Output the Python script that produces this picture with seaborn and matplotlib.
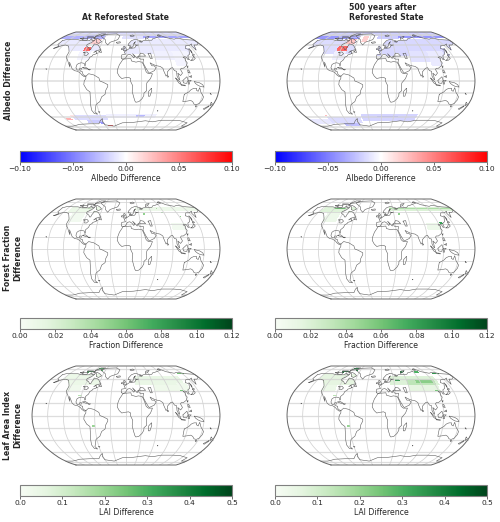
#!/usr/bin/env python
# -*- coding: utf-8 -*-

import numpy as np
import pandas as pd
import matplotlib
matplotlib.use("Agg")
import matplotlib.pyplot as plt
from matplotlib.path import Path
from matplotlib.colors import Normalize
from matplotlib.cm import ScalarMappable
from matplotlib.ticker import FuncFormatter
import seaborn as sns

# Robinson table
ROB_LAT = np.arange(0, 95, 5)
ROB_X = [1, .9986, .9954, .99, .9822, .973, .96, .9427, .9216, .8962, .8679, .835, .7986, .7597, .7186, .6732, .6213, .5722, .5322]
ROB_Y = [0, .062, .124, .186, .248, .31, .372, .434, .4958, .5571, .6176, .6769, .7346, .7903, .8435, .8936, .9394, .9761, 1]

# coastlines, lon/lat
north_america = [(-166,68),(-157,71),(-141,70),(-128,70),(-115,68),(-108,68),(-95,68),(-94,72),(-88,68),(-82,69),(-87,64),(-94,61),(-93,58),(-85,55),(-82,52),(-79,52),(-79,55),(-77,60),(-78,62),(-70,61),(-65,59),(-60,55),(-56,52),(-66,50),(-70,47),(-65,49),(-64,46),(-61,46),(-66,44),(-70,43),(-71,41),(-75,39),(-76,35),(-81,31),(-80,26),(-81,25),(-83,29),(-89,30),(-94,29),(-97,27),(-98,22),(-95,18),(-91,18),(-90,21),(-87,21),(-88,16),(-84,15),(-83,11),(-80,9),(-77,8),(-80,7),(-85,10),(-88,13),(-94,16),(-100,17),(-105,20),(-109,26),(-113,31),(-110,23),(-115,30),(-118,34),(-122,37),(-124,41),(-124,48),(-130,54),(-135,58),(-145,60),(-152,59),(-160,55),(-165,54),(-158,58),(-165,61),(-165,65),(-166,68)]
south_america = [(-77,8),(-72,12),(-62,10),(-52,5),(-50,0),(-44,-2),(-35,-6),(-35,-9),(-39,-15),(-41,-22),(-48,-26),(-53,-34),(-57,-36),(-62,-39),(-65,-45),(-69,-51),(-65,-55),(-72,-54),(-75,-48),(-73,-38),(-71,-30),(-70,-18),(-76,-14),(-81,-6),(-80,0),(-77,4),(-77,8)]
africa = [(-6,36),(10,37),(11,33),(20,31),(25,32),(32,31),(34,28),(37,21),(39,15),(43,12),(51,12),(47,4),(40,-3),(39,-10),(40,-16),(35,-20),(35,-24),(32,-29),(26,-34),(20,-35),(18,-33),(15,-26),(12,-17),(13,-8),(9,-1),(9,4),(5,6),(-4,5),(-8,4),(-13,8),(-17,14),(-16,20),(-13,27),(-9,32),(-6,36)]
eurasia = [(-9,37),(-9,43),(-1,44),(-4,48),(2,51),(8,54),(8,57),(11,56),(10,54),(20,55),(24,59),(30,60),(22,60),(21,64),(24,66),(18,62),(17,58),(13,55),(10,59),(5,59),(6,62),(14,68),(25,71),(41,67),(33,66),(40,65),(44,68),(60,69),(68,69),(73,72),(80,73),(105,78),(113,74),(130,71),(140,73),(160,70),(180,69),(180,65),(178,63),(170,60),(163,60),(156,51),(155,58),(160,62),(150,59),(142,59),(135,54),(141,52),(135,44),(130,42),(128,38),(129,35),(126,35),(125,39),(122,40),(118,39),(122,37),(120,34),(122,30),(119,25),(112,21),(108,21),(106,19),(109,13),(105,9),(100,13),(103,2),(101,3),(98,8),(98,16),(94,17),(91,22),(87,21),(80,15),(80,11),(77,8),(73,17),(72,21),(67,24),(61,25),(57,26),(52,28),(48,30),(51,25),(55,25),(59,22),(55,17),(45,13),(43,15),(39,21),(35,28),(34,31),(36,36),(30,36),(27,37),(26,40),(30,41),(41,41),(37,45),(31,46),(28,42),(24,40),(23,37),(20,40),(14,45),(18,40),(16,38),(12,42),(8,44),(3,43),(0,39),(-2,37),(-6,36),(-9,37)]
australia = [(114,-22),(122,-18),(126,-14),(131,-12),(136,-12),(136,-15),(140,-17),(142,-11),(146,-19),(153,-26),(153,-31),(150,-37),(145,-39),(140,-38),(135,-34),(130,-32),(124,-33),(115,-34),(114,-22)]
greenland = [(-73,78),(-60,82),(-30,83),(-18,78),(-22,70),(-40,65),(-44,60),(-52,65),(-55,70),(-70,76),(-73,78)]
baffin = [(-88,72),(-80,73),(-70,70),(-62,66),(-68,63),(-75,65),(-78,70),(-88,72)]
victoria = [(-118,72),(-105,73),(-103,69),(-115,69),(-118,72)]
ellesmere = [(-90,77),(-80,83),(-65,83),(-75,78),(-90,77)]
banks = [(-125,72),(-118,74),(-115,71),(-125,72)]
parry = [(-110,76),(-95,76),(-85,74),(-95,74),(-110,75),(-110,76)]
newfoundland = [(-59,48),(-56,51),(-53,47),(-59,48)]
iceland = [(-24,65),(-15,66),(-14,64),(-22,63),(-24,65)]
britain = [(-5,50),(1,51),(0,54),(-3,58),(-6,57),(-3,54),(-5,52),(-5,50)]
ireland = [(-10,52),(-6,52),(-6,55),(-10,54),(-10,52)]
svalbard = [(12,78),(20,80),(25,78),(16,76),(12,78)]
novaya = [(52,71),(56,75),(68,77),(58,72),(52,71)]
severnaya = [(95,79),(105,79),(100,81),(95,79)]
honshu = [(131,34),(136,36),(141,41),(142,37),(136,34),(131,34)]
hokkaido = [(140,42),(142,45),(145,43),(140,42)]
sakhalin = [(142,46),(143,54),(144,49),(142,46)]
taiwan = [(120,23),(122,25),(121,22),(120,23)]
luzon = [(120,14),(120,18),(122,18),(124,13),(120,14)]
mindanao = [(122,7),(126,9),(126,6),(122,7)]
sumatra = [(95,5),(104,-2),(106,-6),(101,-3),(95,5)]
java = [(106,-6),(114,-7),(114,-8),(106,-7),(106,-6)]
borneo = [(109,1),(117,7),(119,1),(116,-4),(110,-3),(109,1)]
sulawesi = [(120,1),(125,1),(122,-1),(122,-5),(119,-5),(120,1)]
new_guinea = [(131,-1),(141,-3),(147,-6),(150,-10),(143,-9),(138,-7),(133,-4),(131,-1)]
tasmania = [(145,-41),(148,-41),(147,-43),(145,-41)]
nz_north = [(173,-35),(178,-38),(175,-41),(174,-38),(173,-35)]
nz_south = [(173,-41),(174,-42),(169,-47),(166,-46),(173,-41)]
madagascar = [(49,-12),(50,-16),(47,-25),(44,-25),(44,-17),(49,-12)]
sri_lanka = [(80,9),(82,7),(80,6),(80,9)]
cuba = [(-85,22),(-80,23),(-74,20),(-78,20),(-85,22)]
hispaniola = [(-74,19),(-69,19),(-71,18),(-74,19)]
hawaii = [(-156,20),(-155,20),(-155,19),(-156,20)]
caspian = [(47,45),(53,46),(53,40),(54,37),(50,37),(49,41),(47,45)]
great_lakes = [(-92,47),(-85,48),(-80,45),(-83,42),(-87,42),(-88,46),(-92,47)]
new_caledonia = [(164,-20),(167,-22),(166,-22),(164,-20)]
kerguelen = [(69,-49),(70,-49),(70,-50),(69,-49)]
falkland = [(-61,-51),(-58,-51),(-59,-52),(-61,-51)]
antarctica = [(-180,-78),(-160,-78),(-150,-77),(-130,-74),(-100,-73),(-75,-73),(-65,-66),(-58,-63),(-62,-68),(-60,-75),(-35,-78),(-10,-71),(20,-70),(50,-67),(70,-69),(90,-66),(120,-66),(140,-67),(165,-71),(165,-78),(180,-78)]

land_polys = [north_america, south_america, africa, eurasia, australia, greenland, baffin, victoria, ellesmere, banks, parry, newfoundland, iceland, britain, ireland, svalbard, novaya, severnaya, honshu, hokkaido, sakhalin, taiwan, luzon, mindanao, sumatra, java, borneo, sulawesi, new_guinea, tasmania, nz_north, nz_south, madagascar, sri_lanka, cuba, hispaniola, hawaii, new_caledonia, kerguelen, falkland]
inland_polys = [caspian, great_lakes]

# field values, (west, east, south, north, value)
albedo_left_land = [(-165,-60,50,72,-0.008),(-100,-75,35,50,-0.004),(-10,180,45,72,-0.008),(60,130,35,50,-0.006),(100,135,25,50,-0.004)]
albedo_left_any = [(-180,180,78,90,-0.014),(-180,-60,72,78,-0.03),(50,180,74,78,-0.035),(-10,50,72,78,-0.012),(-55,-20,60,84,0),
                   (-120,-60,74,80,-0.03),(-93,-80,50,56,0.06),(-85,-65,62,72,0.018),
                   (-125,-45,-66,-56,-0.014),(-45,70,-62,-54,-0.006),(25,45,-60,-56,-0.028),(-100,-60,-72,-66,-0.02),
                   (-52,-38,-78,-75,0.06),(-68,-60,-73,-70,-0.04),(-145,-135,-66,-62,0.03),(-130,-120,-60,-56,0.01)]
albedo_right_land = [(-165,-60,45,72,-0.014),(-100,-75,35,50,-0.006),(-10,180,42,72,-0.015),(60,130,32,50,-0.011),(100,135,25,50,-0.008)]
albedo_right_any = [(-180,180,78,90,-0.018),(-180,-60,72,78,-0.04),(50,180,74,78,-0.04),(-10,50,72,78,-0.02),(-55,-20,60,84,0),
                    (-50,-35,66,78,0.018),(-120,-60,74,80,-0.03),(-98,-76,50,58,0.06),(-85,-65,62,72,0.022),
                    (-45,85,-68,-54,-0.017),(-130,-50,-72,-60,-0.014),(-180,-130,-74,-64,-0.009),(-100,-60,-78,-72,-0.025),
                    (-10,40,-60,-58,-0.03),(-130,-125,-58,-56,0.025)]

forest_left = [(-140,-60,58,70,0.009),(-125,-95,45,58,0.004),(25,180,62,70,0.008),(95,125,30,42,0.004),
               (40,44,56,58,0.05),(85,88,58,60,0.06),(122,124,52,54,0.05),(-95,-90,66,68,0.03),(78,82,66,68,0.04)]
forest_right = [(-145,-60,60,70,0.018),(-125,-95,45,60,0.008),(20,180,62,70,0.02),(20,180,67,69,0.04),(95,125,30,42,0.008),
                (125,128,40,44,0.08),(40,44,56,58,0.05),(-120,-90,67,69,0.06)]

lai_left = [(-150,-60,50,70,0.04),(-125,-95,40,50,0.025),(20,130,50,66,0.045),(60,125,40,50,0.03),(115,135,40,55,0.025),
            (-115,-70,72,84,0.3),(-66,-60,-18,-15,0.2),(-95,-90,32,34,0.15),(115,120,40,42,0.25),(140,160,70,73,0.25)]
lai_right = [(-150,-60,50,70,0.06),(-125,-95,40,50,0.04),(20,130,50,66,0.08),(60,125,50,60,0.14),(60,125,40,50,0.06),(80,120,55,58,0.22),
             (35,45,56,60,0.35),(-115,-70,72,84,0.4),(-66,-60,-18,-15,0.2),(-95,-90,32,34,0.15),(115,122,40,43,0.25),
             (140,160,70,73,0.35),(55,65,73,76,0.4),(95,105,72,76,0.3)]

col_titles = ["At Reforested State", "500 years after\nReforested State"]
row_labels = ["Albedo Difference", "Forest Fraction\nDifference", "Leaf Area Index\nDifference"]
cbar_labels = ["Albedo Difference", "Fraction Difference", "LAI Difference"]
albedo_ticks = [-0.10, -0.05, 0.00, 0.05, 0.10]
fraction_ticks = [0.00, 0.02, 0.04, 0.06, 0.08, 0.10, 0.12]
lai_ticks = [0.0, 0.1, 0.2, 0.3, 0.4, 0.5]

W, H = 500, 522
MAP_W = 188
MAP_LEFT = [32, 287]
MAP_TOP = [32, 199, 366]
MAP_H = [98, 100, 99]
CBAR_W = 212
CBAR_LEFT = [20, 275]
CBAR_TOP = [151, 318, 485]
CBAR_H = 11
FS = 5.6
TICK_FS = 5.4
COAST = "#5c5c5c"
GRID = "#d2d2d2"


def robinson(lon, lat):
    lon = np.asarray(lon, dtype=float)
    lat = np.asarray(lat, dtype=float)
    px = np.interp(np.abs(lat), ROB_LAT, ROB_X)
    py = np.interp(np.abs(lat), ROB_LAT, ROB_Y)
    return 0.8487 * px * np.radians(lon), 1.3523 * py * np.sign(lat)


def build_coast():
    rows = []
    for i, poly in enumerate(land_polys + inland_polys + [antarctica]):
        arr = np.array(poly, dtype=float)
        x, y = robinson(arr[:, 0], arr[:, 1])
        rows.append(pd.DataFrame({"x": x, "y": y, "poly": i}))
    return pd.concat(rows, ignore_index=True)


def land_mask(lon, lat):
    pts = np.column_stack([lon.ravel(), lat.ravel()])
    mask = np.zeros(len(pts), dtype=bool)
    for poly in land_polys:
        mask |= Path(poly).contains_points(pts)
    mask |= lat.ravel() < -68
    return mask.reshape(lon.shape)


lon_edges = np.arange(-180, 181, 2)
lat_edges = np.arange(-90, 91, 2)
lon_c, lat_c = np.meshgrid(lon_edges[:-1] + 1, lat_edges[:-1] + 1)
is_land = land_mask(lon_c, lat_c)


def fill_field(land_boxes, any_boxes=()):
    field = np.zeros(lon_c.shape)
    for w, e, s, n, val in land_boxes:
        hit = (lon_c >= w) & (lon_c < e) & (lat_c >= s) & (lat_c < n) & is_land
        field[hit] = val
    for w, e, s, n, val in any_boxes:
        hit = (lon_c >= w) & (lon_c < e) & (lat_c >= s) & (lat_c < n)
        field[hit] = val
    return np.ma.masked_equal(field, 0)


def draw_map(ax, field, cmap, norm, coast_df, band_lw):
    xx, yy = robinson(*np.meshgrid(lon_edges, lat_edges))
    ax.pcolormesh(xx, yy, field, cmap=cmap, norm=norm, shading="flat", antialiased=False, zorder=1)

    # graticule
    lat_line = np.arange(-90, 91, 2)
    for lon in np.arange(-150, 151, 30):
        x, y = robinson(np.full(lat_line.shape, lon), lat_line)
        ax.plot(x, y, color=GRID, lw=0.55, zorder=2)
    lon_line = np.arange(-180, 181, 10)
    for lat in np.arange(-80, 81, 20):
        x, y = robinson(lon_line, np.full(lon_line.shape, lat))
        ax.plot(x, y, color=GRID, lw=band_lw, alpha=0.75, zorder=2)

    sns.lineplot(data=coast_df, x="x", y="y", units="poly", estimator=None, sort=False,
                 color=COAST, lw=0.4, ax=ax, zorder=3, legend=False)

    # outline of the globe
    lat_out = np.arange(-90, 91, 2)
    xl, yl = robinson(np.full(lat_out.shape, -180), lat_out)
    xr, yr = robinson(np.full(lat_out.shape, 180), lat_out)
    ax.plot(np.r_[xl, xr[::-1], xl[0]], np.r_[yl, yr[::-1], yl[0]], color="#666666", lw=0.7, zorder=4, clip_on=False)

    ax.set_xlim(-2.666, 2.666)
    ax.set_ylim(-1.3523, 1.3523)
    ax.set_xlabel("")
    ax.set_ylabel("")
    ax.set_xticks([])
    ax.set_yticks([])
    ax.axis("off")


def box(left, top, w, h):
    return [left / W, 1 - (top + h) / H, w / W, h / H]


def main():
    sns.set_style("white")
    plt.rcParams['font.family'] = ['DejaVu Sans']

    bwr = sns.color_palette("bwr", as_cmap=True)
    greens = sns.color_palette("Greens", as_cmap=True)

    fields = [
        [fill_field(albedo_left_land, albedo_left_any), fill_field(albedo_right_land, albedo_right_any)],
        [fill_field(forest_left), fill_field(forest_right)],
        [fill_field(lai_left), fill_field(lai_right)],
    ]
    cmaps = [bwr, greens, greens]
    norms = [Normalize(-0.10, 0.10), Normalize(0, 0.12), Normalize(0, 0.5)]
    ticks = [albedo_ticks, fraction_ticks, lai_ticks]
    decimals = [2, 2, 1]
    band_lws = [1.1, 0.7, 0.9]

    coast_df = build_coast()

    fig = plt.figure(figsize=(5.0, 5.22), dpi=100)

    for r in range(3):
        fmt = FuncFormatter(lambda v, pos, d=decimals[r]: f"{v:.{d}f}".replace("-", "\u2212"))
        for c in range(2):
            ax = fig.add_axes(box(MAP_LEFT[c], MAP_TOP[r], MAP_W, MAP_H[r]))
            draw_map(ax, fields[r][c], cmaps[r], norms[r], coast_df, band_lws[r])

            cax = fig.add_axes(box(CBAR_LEFT[c], CBAR_TOP[r], CBAR_W, CBAR_H))
            cb = fig.colorbar(ScalarMappable(norm=norms[r], cmap=cmaps[r]), cax=cax,
                              orientation="horizontal", ticks=ticks[r], format=fmt)
            cb.ax.tick_params(labelsize=TICK_FS, length=2, width=0.5, pad=1, bottom=True, color="#333333")
            cb.outline.set_edgecolor("#808080")
            cb.outline.set_linewidth(0.8)
            cb.set_label(cbar_labels[r], fontsize=FS, labelpad=1)

    fig.text(126 / W, 1 - 17 / H, col_titles[0], fontsize=FS, fontweight="bold", ha="center", va="center")
    fig.text(349 / W, 1 - 12.5 / H, col_titles[1], fontsize=FS, fontweight="bold", ha="left", va="center", linespacing=1.2)

    row_y = [80, 258, 425]
    row_x = [9, 12.5, 12.5]
    for label, y, x in zip(row_labels, row_y, row_x):
        fig.text(x / W, 1 - y / H, label, fontsize=FS, fontweight="bold", rotation=90,
                 ha="center", va="center", linespacing=1.2)

    fig.savefig("out.png", dpi=100)


if __name__ == '__main__':
    main()
